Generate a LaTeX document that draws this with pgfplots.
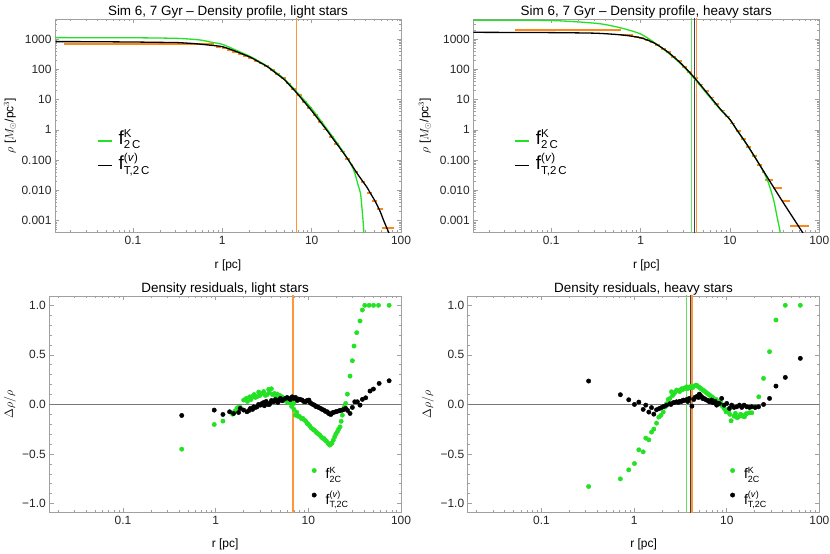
\documentclass[border=0pt]{standalone}
\usepackage{amsmath}
\usepackage{fontspec}
\setmainfont{Liberation Sans}
\usepackage{pgfplots}
\pgfplotsset{compat=1.18}
\definecolor{mgreen}{RGB}{35,225,35}
\definecolor{morange}{RGB}{255,135,25}
\definecolor{vorange}{RGB}{255,150,60}
\definecolor{vgreen}{RGB}{100,225,100}
\definecolor{framegray}{RGB}{160,160,160}
\definecolor{zerogray}{RGB}{120,120,120}
\newcommand{\sk}[1]{\text{\fontsize{11.5}{12}\selectfont #1}}
\newcommand{\ssk}[1]{\text{\fontsize{9}{10}\selectfont #1}}
\pgfplotsset{
    scale only axis,
    axis line style={draw=framegray, line width=0.9bp},
    tick style={draw=framegray, line width=0.6bp},
    major tick length=4.5bp, minor tick length=2.5bp,
    tick align=inside,
    tick label style={font=\fontsize{12}{13}\selectfont, text=black!85},
    label style={font=\fontsize{12}{14}\selectfont},
    title style={font=\fontsize{13.5}{15}\selectfont, at={(0.5,1)}, anchor=base, yshift=-2bp},
    legend cell align=left,
}
\begin{document}
\begin{tikzpicture}
\path[use as bounding box] (0,0) rectangle (830bp,554bp);

% ---------------- top left ----------------
\begin{axis}[at={(55bp,321.7bp)}, anchor=south west,
  width=346bp, height=213.3bp,
  xmode=log, ymode=log,
  xmin=0.0134, xmax=100, ymin=0.000412, ymax=4570,
  xtick pos=both, ytick pos=both,
  xtick={0.1,1,10,100}, xticklabels={0.1,1,10,100},
  minor xtick={0.02,0.03,0.04,0.05,0.06,0.07,0.08,0.09,0.2,0.3,0.4,0.5,0.6,0.7,0.8,0.9,2,3,4,5,6,7,8,9,20,30,40,50,60,70,80,90},
  ytick={0.001,0.01,0.1,1,10,100,1000},
  yticklabels={0.001,0.010,0.100,1,10,100,1000},
  minor ytick={0.0005,0.0006,0.0007,0.0008,0.0009,0.002,0.003,0.004,0.005,0.006,0.007,0.008,0.009,0.02,0.03,0.04,0.05,0.06,0.07,0.08,0.09,0.2,0.3,0.4,0.5,0.6,0.7,0.8,0.9,2,3,4,5,6,7,8,9,20,30,40,50,60,70,80,90,200,300,400,500,600,700,800,900,2000,3000,4000},
  title={Sim 6, 7 Gyr – Density profile, light stars},
  xlabel={r [pc]}, ylabel={$\rho$ [$M_{\odot}$/pc$^{3}$]},
  xlabel style={at={(axis description cs:0.5,-0.153)}, anchor=center},
  ylabel style={at={(axis description cs:-0.13,0.5)}, anchor=center},
  legend style={draw=none, fill=none, inner sep=0pt, nodes={inner sep=1bp}, font=\fontsize{19}{20}\selectfont, row sep=5.6bp, anchor=north west, at={(axis description cs:0.121,0.485)}},
  legend image code/.code={\path[draw=none,fill=none] (0bp,-6bp) rectangle (20bp,6bp); \draw[#1,line width=1.3bp] (0bp,-3bp) -- (14bp,-3bp);},
]
\addplot[color=vorange, line width=1bp, forget plot] coordinates {(6.84,0.0001) (6.84,10000)};
\addplot[morange, line width=1.8bp, unbounded coords=jump, forget plot] coordinates {
(0.0169,683) (0.807,683) (nan,nan)
(0.855,544) (0.973,544) (nan,nan)
(0.982,504) (1.117,504) (nan,nan)
(1.127,438) (1.282,438) (nan,nan)
(1.294,378) (1.472,378) (nan,nan)
(1.486,321) (1.690,321) (nan,nan)
(1.706,276) (1.941,276) (nan,nan)
(1.959,239) (2.228,239) (nan,nan)
(2.249,193) (2.559,193) (nan,nan)
(2.582,155) (2.938,155) (nan,nan)
(2.965,125) (3.373,125) (nan,nan)
(3.404,92.7) (3.873,92.7) (nan,nan)
(3.908,68.4) (4.446,68.4) (nan,nan)
(4.487,50.7) (5.105,50.7) (nan,nan)
(5.152,33.7) (5.861,33.7) (nan,nan)
(5.916,22.0) (6.730,22.0) (nan,nan)
(6.792,13.9) (7.727,13.9) (nan,nan)
(7.798,8.47) (8.872,8.47) (nan,nan)
(8.954,5.16) (10.19,5.16) (nan,nan)
(10.28,3.05) (11.69,3.05) (nan,nan)
(11.80,1.78) (13.43,1.78) (nan,nan)
(13.55,1.02) (15.42,1.02) (nan,nan)
(15.56,0.586) (17.70,0.586) (nan,nan)
(17.86,0.339) (20.32,0.339) (nan,nan)
(20.51,0.191) (23.33,0.191) (nan,nan)
(23.55,0.111) (26.79,0.111) (nan,nan)
(26.9,0.072) (29.3,0.072) (nan,nan)
(29.6,0.0415) (32.9,0.0415) (nan,nan)
(35.5,0.0194) (39.8,0.0194) (nan,nan)
(41.7,0.0084) (47.5,0.0084) (nan,nan)
(47.5,0.00457) (54.1,0.00457) (nan,nan)
(54.1,0.00243) (62.4,0.00243) (nan,nan)
(61.5,0.00056) (84.5,0.00056)};
\addplot[mgreen, line width=1.3bp, smooth, tension=0.4] coordinates {(0.0136,1107) (0.1,1096) (0.316,1047) (0.562,927) (0.75,785) (1.0,667) (1.349,457) (2.07,261) (3.19,126) (4.9,49) (6.76,18.2) (10,5.0) (14.7,1.10) (20,0.316) (25,0.117) (29.6,0.047) (33,0.0155) (35.2,0.008) (36.5,0.0028) (37.6,0.001) (38.4,0.0004) (39,0.00016)};
\addlegendentry{f$^{\sk{K}}_{\sk{2\,C}}$}
\addplot[black, line width=1.3bp, smooth, tension=0.4] coordinates {(0.0136,817) (0.03,815) (0.1,794) (0.2,773) (0.316,759) (0.5,698) (0.75,618) (1.0,558) (1.349,412) (1.5,364) (2.07,248) (2.5,182) (3.19,122) (4.0,73.5) (4.9,46.6) (5.8,27.5) (6.76,16.9) (8.0,9.35) (10,4.27) (12,2.14) (14.7,0.99) (17.5,0.487) (20,0.288) (25,0.115) (29.6,0.054) (33,0.033) (41.7,0.0125) (44.7,0.0087) (50.7,0.00468) (58.1,0.00209) (63.1,0.00112) (68.4,0.00063) (73.1,0.000398) (76,0.00028)};
\addlegendentry{f$^{\sk{(\textit{v})}}_{\sk{T,2\,C}}$}
\end{axis}

% ---------------- top right ----------------
\begin{axis}[at={(473.3bp,321.7bp)}, anchor=south west,
  width=346bp, height=213.3bp,
  xmode=log, ymode=log,
  xmin=0.0134, xmax=100, ymin=0.000412, ymax=4570,
  xtick pos=both, ytick pos=both,
  xtick={0.1,1,10,100}, xticklabels={0.1,1,10,100},
  minor xtick={0.02,0.03,0.04,0.05,0.06,0.07,0.08,0.09,0.2,0.3,0.4,0.5,0.6,0.7,0.8,0.9,2,3,4,5,6,7,8,9,20,30,40,50,60,70,80,90},
  ytick={0.001,0.01,0.1,1,10,100,1000},
  yticklabels={0.001,0.010,0.100,1,10,100,1000},
  minor ytick={0.0005,0.0006,0.0007,0.0008,0.0009,0.002,0.003,0.004,0.005,0.006,0.007,0.008,0.009,0.02,0.03,0.04,0.05,0.06,0.07,0.08,0.09,0.2,0.3,0.4,0.5,0.6,0.7,0.8,0.9,2,3,4,5,6,7,8,9,20,30,40,50,60,70,80,90,200,300,400,500,600,700,800,900,2000,3000,4000},
  title={Sim 6, 7 Gyr – Density profile, heavy stars},
  xlabel={r [pc]}, ylabel={$\rho$ [$M_{\odot}$/pc$^{3}$]},
  xlabel style={at={(axis description cs:0.5,-0.153)}, anchor=center},
  ylabel style={at={(axis description cs:-0.14,0.5)}, anchor=center},
  legend style={draw=none, fill=none, inner sep=0pt, nodes={inner sep=1bp}, font=\fontsize{19}{20}\selectfont, row sep=5.6bp, anchor=north west, at={(axis description cs:0.118,0.485)}},
  legend image code/.code={\path[draw=none,fill=none] (0bp,-6bp) rectangle (20bp,6bp); \draw[#1,line width=1.3bp] (0bp,-3bp) -- (14bp,-3bp);},
]
\addplot[color=vgreen, line width=1bp, forget plot] coordinates {(3.68,0.0001) (3.68,10000)};
\addplot[color=black!75, line width=1bp, forget plot] coordinates {(4.06,0.0001) (4.06,10000)};
\addplot[color=vorange, line width=1.6bp, forget plot] coordinates {(4.23,0.0001) (4.23,10000)};
\addplot[morange, line width=1.8bp, unbounded coords=jump, forget plot] coordinates {
(0.039,1983) (0.61,1983) (nan,nan)
(0.61,1320) (0.83,1320) (nan,nan)
(0.836,1153) (0.951,1153) (nan,nan)
(0.963,1059) (1.096,1059) (nan,nan)
(1.107,902) (1.259,902) (nan,nan)
(1.271,767) (1.446,767) (nan,nan)
(1.459,617) (1.660,617) (nan,nan)
(1.675,475) (1.905,475) (nan,nan)
(1.923,363) (2.188,363) (nan,nan)
(2.208,257) (2.512,257) (nan,nan)
(2.535,182) (2.884,182) (nan,nan)
(2.911,122) (3.311,122) (nan,nan)
(3.342,79.4) (3.802,79.4) (nan,nan)
(3.837,51.3) (4.365,51.3) (nan,nan)
(4.406,31.6) (5.012,31.6) (nan,nan)
(5.058,19.3) (5.754,19.3) (nan,nan)
(5.808,11.7) (6.607,11.7) (nan,nan)
(6.668,7.08) (7.586,7.08) (nan,nan)
(7.656,4.32) (8.710,4.32) (nan,nan)
(8.790,2.75) (10.0,2.75) (nan,nan)
(10.09,1.62) (11.48,1.62) (nan,nan)
(11.59,0.887) (13.18,0.887) (nan,nan)
(13.31,0.486) (15.14,0.486) (nan,nan)
(15.28,0.264) (17.38,0.264) (nan,nan)
(17.54,0.137) (19.95,0.137) (nan,nan)
(20.14,0.0708) (22.91,0.0708) (nan,nan)
(22.9,0.040) (24.7,0.040) (nan,nan)
(24.8,0.0225) (30.6,0.0225) (nan,nan)
(30.6,0.012) (38.5,0.012) (nan,nan)
(38.5,0.00457) (47.4,0.00457) (nan,nan)
(47.4,0.00068) (77.5,0.00068)};
\addplot[mgreen, line width=1.3bp, smooth, tension=0.4] coordinates {(0.0132,4169) (0.1,4074) (0.335,3236) (0.611,2291) (1.0,1462) (1.445,741) (2.04,347) (2.884,141) (3.98,50) (5.62,14.5) (7.94,4.4) (10,2.15) (11.9,1.0) (15.85,0.29) (19.95,0.1) (23.8,0.0407) (27.0,0.0175) (30.8,0.0049) (33.6,0.00138) (36.6,0.0004) (37.5,0.0002)};
\addlegendentry{f$^{\sk{K}}_{\sk{2\,C}}$}
\addplot[black, line width=1.3bp, smooth, tension=0.4] coordinates {(0.0132,1660) (0.1,1622) (0.316,1549) (0.631,1349) (1.0,1096) (1.413,741) (2.0,380) (2.818,158) (3.98,53.7) (5.62,15.8) (7.94,4.57) (10,2.19) (11.9,1.01) (15.85,0.295) (23.8,0.0427) (31.6,0.0112) (39.8,0.0038) (58.7,0.000646) (66,0.00038)};
\addlegendentry{f$^{\sk{(\textit{v})}}_{\sk{T,2\,C}}$}
\end{axis}

% ---------------- bottom left ----------------
\begin{axis}[at={(49.3bp,41.3bp)}, anchor=south west,
  width=351.7bp, height=216.7bp,
  xmode=log,
  xmin=0.016, xmax=100, ymin=-1.092, ymax=1.094,
  xtick pos=both, ytick pos=both,
  xtick={0.1,1,10,100}, xticklabels={0.1,1,10,100},
  minor xtick={0.02,0.03,0.04,0.05,0.06,0.07,0.08,0.09,0.2,0.3,0.4,0.5,0.6,0.7,0.8,0.9,2,3,4,5,6,7,8,9,20,30,40,50,60,70,80,90},
  ytick={-1,-0.5,0,0.5,1}, yticklabels={−1.0,−0.5,0.0,0.5,1.0},
  minor y tick num=4,
  title={Density residuals, light stars},
  xlabel={r [pc]}, ylabel={$\Delta\rho/\rho$},
  xlabel style={at={(axis description cs:0.5,-0.145)}, anchor=center},
  ylabel style={at={(axis description cs:-0.112,0.5)}, anchor=center},
  legend style={draw=none, fill=none, inner sep=0pt, nodes={inner sep=1bp}, font=\fontsize{14}{15}\selectfont, row sep=8.7bp, anchor=north west, at={(axis description cs:0.7455,0.215)}},
  legend image code/.code={\path[draw=none,fill=none] (0bp,0bp) -- (13bp,0bp); \draw[#1] plot coordinates {(2.5bp,3.2bp)};},
]
\addplot[color=vorange, line width=1.2bp, forget plot] coordinates {(6.84,-2) (6.84,2)};
\addplot[color=zerogray, line width=0.8bp, forget plot] coordinates {(0.01,0) (200,0)};
\addplot[only marks, mark=*, mark size=2.2bp, mgreen] table {
0.43 -0.451
0.964 -0.202
1.197 -0.168
1.521 -0.098
1.60 -0.07
1.694 -0.040
1.75 -0.03
1.841 -0.030
2.004 0.044
2.138 0.061
2.20 0.03
2.328 0.077
2.40 0.05
2.529 0.084
2.60 0.10
2.679 0.071
2.80 0.08
2.911 0.125
3.00 0.09
3.162 0.111
3.30 0.13
3.436 0.091
3.60 0.10
3.733 0.152
3.80 0.12
3.990 0.158
4.10 0.10
4.305 0.111
4.40 0.09
4.603 0.104
4.80 0.08
4.920 0.091
5.00 0.06
5.212 0.077
5.40 0.05
5.662 0.061
5.80 0.03
5.998 0.044
6.10 0.02
6.412 0.027
6.60 -0.02
6.966 0.010
7.00 -0.05
7.261 -0.108
7.50 -0.08
7.709 -0.118
8.00 -0.12
8.375 -0.141
8.70 -0.14
9.099 -0.158
9.40 -0.17
9.727 -0.192
10.0 -0.20
10.40 -0.219
10.8 -0.24
11.30 -0.253
11.6 -0.26
12.08 -0.276
12.5 -0.29
12.91 -0.300
13.3 -0.31
13.80 -0.327
14.2 -0.34
14.72 -0.343
15.2 -0.36
15.67 -0.37
16.29 -0.39
16.6 -0.40
17.02 -0.41
17.5 -0.40
17.99 -0.39
18.6 -0.36
19.23 -0.327
19.8 -0.30
20.56 -0.276
21.2 -0.25
21.98 -0.226
22.6 -0.17
23.28 -0.108
24.27 -0.030
25.29 0.010
26.36 0.104
28.18 0.286
29.85 0.441
31.12 0.589
33.27 0.724
36.14 0.842
38.28 0.953
40.64 1.0
45.29 1.0
50.47 1.0
57.15 1.0
74.47 1.0
};
\addlegendentry{f$^{\ssk{K}}_{\ssk{2C}}$}
\addplot[only marks, mark=*, mark size=2.2bp, black] table {
0.43 -0.111
0.964 -0.057
1.197 -0.101
1.413 -0.074
1.560 -0.091
1.766 -0.081
1.841 -0.040
2.004 -0.057
2.178 -0.074
2.30 -0.06
2.366 -0.040
2.50 -0.05
2.570 -0.024
2.70 -0.03
2.793 -0.024
2.90 0.0
3.034 -0.007
3.162 0.010
3.30 0.02
3.350 -0.013
3.50 0.03
3.648 0.0
3.80 0.0
3.890 0.017
4.00 0.04
4.236 0.027
4.40 0.05
4.519 0.034
4.70 0.02
4.797 0.044
5.00 0.06
5.212 0.037
5.40 0.05
5.662 0.061
5.90 0.07
6.152 0.061
6.40 0.05
6.683 0.077
7.00 0.06
7.261 0.071
7.60 0.04
7.889 0.054
8.20 0.05
8.590 0.044
8.90 0.03
9.333 0.027
9.70 0.04
10.14 0.044
10.40 0.02
10.74 0.010
11.20 0.0
11.67 -0.007
12.00 -0.02
12.47 -0.024
12.90 -0.03
13.55 -0.040
14.10 -0.05
14.72 -0.057
15.30 -0.07
16.00 -0.074
16.50 -0.09
17.10 -0.098
17.60 -0.10
18.16 -0.084
18.80 -0.08
19.72 -0.074
20.50 -0.07
21.43 -0.064
22.30 -0.06
23.28 -0.057
24.20 -0.05
25.29 -0.040
26.50 -0.06
28.18 -0.091
29.85 -0.030
31.70 0.027
33.81 0.027
36.14 -0.007
38.28 0.051
41.59 0.067
46.34 0.135
50.35 0.155
58.08 0.212
74.47 0.239
};
\addlegendentry{f$^{\ssk{(\textit{v})}}_{\ssk{T,2C}}$}
\end{axis}

% ---------------- bottom right ----------------
\begin{axis}[at={(467.7bp,41.3bp)}, anchor=south west,
  width=351.7bp, height=216.7bp,
  xmode=log,
  xmin=0.016, xmax=100, ymin=-1.092, ymax=1.094,
  xtick pos=both, ytick pos=both,
  xtick={0.1,1,10,100}, xticklabels={0.1,1,10,100},
  minor xtick={0.02,0.03,0.04,0.05,0.06,0.07,0.08,0.09,0.2,0.3,0.4,0.5,0.6,0.7,0.8,0.9,2,3,4,5,6,7,8,9,20,30,40,50,60,70,80,90},
  ytick={-1,-0.5,0,0.5,1}, yticklabels={−1.0,−0.5,0.0,0.5,1.0},
  minor y tick num=4,
  title={Density residuals, heavy stars},
  xlabel={r [pc]}, ylabel={$\Delta\rho/\rho$},
  xlabel style={at={(axis description cs:0.5,-0.145)}, anchor=center},
  ylabel style={at={(axis description cs:-0.113,0.5)}, anchor=center},
  legend style={draw=none, fill=none, inner sep=0pt, nodes={inner sep=1bp}, font=\fontsize{14}{15}\selectfont, row sep=8.7bp, anchor=north west, at={(axis description cs:0.7455,0.215)}},
  legend image code/.code={\path[draw=none,fill=none] (0bp,0bp) -- (13bp,0bp); \draw[#1] plot coordinates {(2.5bp,3.2bp)};},
]
\addplot[color=zerogray, line width=0.8bp, forget plot] coordinates {(0.01,0) (200,0)};
\addplot[color=vgreen, line width=1bp, forget plot] coordinates {(3.68,-2) (3.68,2)};
\addplot[color=black!75, line width=1bp, forget plot] coordinates {(4.06,-2) (4.06,2)};
\addplot[color=vorange, line width=1.3bp, forget plot] coordinates {(4.23,-2) (4.23,2)};
\addplot[only marks, mark=*, mark size=2.2bp, mgreen] table {
0.323 -0.828
0.711 -0.751
0.875 -0.660
1.009 -0.596
1.125 -0.458
1.253 -0.478
1.337 -0.340
1.442 -0.357
1.542 -0.279
1.633 -0.249
1.746 -0.189
1.849 -0.128
1.950 -0.11
2.061 -0.077
2.148 -0.027
2.239 0.007
2.333 0.051
2.432 0.06
2.535 0.128
2.60 0.09
2.692 0.108
2.75 0.12
2.871 0.145
3.020 0.14
3.10 0.13
3.251 0.158
3.35 0.15
3.467 0.165
3.55 0.16
3.681 0.178
3.80 0.16
3.936 0.17
4.05 0.18
4.169 0.172
4.30 0.17
4.426 0.185
4.645 0.195
4.80 0.19
4.932 0.178
5.10 0.17
5.224 0.162
5.35 0.155
5.495 0.145
5.65 0.14
5.821 0.13
6.0 0.12
6.166 0.111
6.4 0.10
6.607 0.09
6.8 0.08
7.047 0.071
7.2 0.06
7.464 0.044
7.7 0.05
7.852 0.03
8.1 0.03
8.318 0.010
8.6 0.02
8.810 -0.01
9.1 -0.02
9.354 -0.040
9.6 -0.05
9.817 -0.074
10.2 -0.07
10.47 -0.07
10.8 -0.10
11.14 -0.165
11.99 -0.118
12.4 -0.09
12.82 -0.131
13.2 -0.13
13.71 -0.118
14.1 -0.10
14.52 -0.108
15.0 -0.12
15.52 -0.125
16.0 -0.10
16.44 -0.091
17.58 -0.084
18.62 -0.084
20.28 -0.030
22.18 0.077
24.95 0.263
28.97 0.532
33.96 0.852
42.85 1.0
62.23 1.0
};
\addlegendentry{f$^{\ssk{K}}_{\ssk{2C}}$}
\addplot[only marks, mark=*, mark size=2.2bp, black] table {
0.323 0.236
0.711 0.098
0.875 0.047
1.009 0.0
1.125 0.024
1.253 -0.050
1.337 -0.007
1.442 -0.077
1.542 -0.032
1.633 -0.098
1.746 -0.054
1.862 -0.042
1.972 -0.032
2.089 -0.02
2.239 -0.008
2.432 0.008
2.50 0.0
2.642 0.017
2.75 0.02
2.871 0.027
3.00 0.02
3.119 0.032
3.25 0.03
3.388 0.044
3.50 0.04
3.681 0.049
3.80 0.03
3.936 0.061
4.207 -0.017
4.40 0.05
4.539 0.071
4.808 0.084
4.95 0.07
5.058 0.104
5.20 0.09
5.358 0.077
5.50 0.06
5.675 0.061
5.90 0.05
6.067 0.044
6.30 0.04
6.486 0.027
6.70 0.03
6.871 0.044
7.00 0.02
7.278 0.017
7.50 0.03
7.780 -0.007
8.00 0.01
8.318 0.010
8.810 0.061
9.354 -0.007
10.0 0.010
10.69 -0.040
11.32 -0.007
11.99 -0.030
12.82 -0.024
13.71 -0.007
14.52 -0.030
15.38 -0.007
16.44 -0.024
17.58 -0.030
18.62 -0.024
20.28 -0.030
22.03 -0.024
24.95 0.0
28.97 0.061
33.96 0.185
42.85 0.273
62.23 0.465
};
\addlegendentry{f$^{\ssk{(\textit{v})}}_{\ssk{T,2C}}$}
\end{axis}
\end{tikzpicture}
\end{document}
